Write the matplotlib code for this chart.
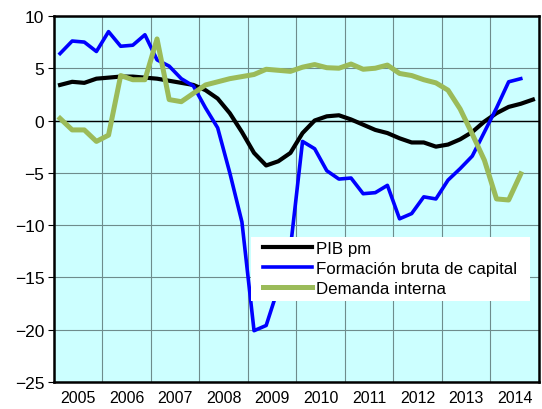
import matplotlib
matplotlib.use('Agg')
import matplotlib.pyplot as plt
import numpy as np

plt.rcParams['font.family'] = ['Liberation Sans', 'DejaVu Sans']

years = [2005, 2006, 2007, 2008, 2009, 2010, 2011, 2012, 2013, 2014]

# quarterly rates (%), 2005Q1 ..
pib = [3.4, 3.7, 3.6, 4.0, 4.1, 4.2, 4.2, 4.1, 4.0, 3.8,
       3.6, 3.4, 2.9, 2.1, 0.7, -1.1, -3.1, -4.3, -3.9, -3.1,
       -1.2, 0.0, 0.4, 0.5, 0.1, -0.4, -0.9, -1.2, -1.7, -2.1,
       -2.1, -2.5, -2.3, -1.8, -1.1, -0.1, 0.7, 1.3, 1.6, 2.0]
fbc = [6.4, 7.6, 7.5, 6.6, 8.5, 7.1, 7.2, 8.2, 5.8, 5.2,
       4.0, 3.3, 1.2, -0.7, -5.0, -9.7, -20.1, -19.6, -16.0, -12.2,
       -2.0, -2.7, -4.8, -5.6, -5.5, -7.0, -6.9, -6.2, -9.4, -8.9,
       -7.3, -7.5, -5.7, -4.6, -3.4, -1.1, 1.2, 3.7, 4.0]
dem = [0.2, -0.9, -0.9, -2.0, -1.4, 4.3, 3.9, 3.9, 7.8, 2.0,
       1.8, 2.6, 3.4, 3.7, 4.0, 4.2, 4.4, 4.9, 4.8, 4.7,
       5.1, 5.35, 5.05, 5.0, 5.4, 4.9, 5.0, 5.3, 4.5, 4.3,
       3.9, 3.6, 2.9, 1.1, -1.3, -3.8, -7.5, -7.6, -5.1]

def qx(n):
    return 2005 + (np.arange(n) + 0.5) / 4

fig = plt.figure(figsize=(5.42, 4.10), dpi=100)
ax = fig.add_axes([0.0996, 0.066, 0.8948, 0.8927])
ax.set_facecolor('#CCFFFF')

ax.plot(qx(len(pib)), pib, color='black', lw=3, label='PIB pm', zorder=3)
ax.plot(qx(len(fbc)), fbc, color='#0000FF', lw=2.6, label='Formación bruta de capital', zorder=4)
ax.plot(qx(len(dem)), dem, color='#9BBB59', lw=3.6, label='Demanda interna', zorder=5)

ax.axhline(0, color='black', lw=1, zorder=2)

ax.set_xlim(2005, 2015)
ax.set_ylim(-25, 10)
ax.set_yticks(np.arange(-25, 11, 5))
ax.set_xticks(np.array(years) + 0.5)
ax.set_xticklabels([str(y) for y in years])
ax.set_xticks(np.arange(2005, 2016), minor=True)
ax.tick_params(axis='x', which='both', length=0, labelsize=11.5, pad=6)
ax.tick_params(axis='y', length=4, labelsize=12.5, pad=3)
ax.grid(True, axis='x', which='minor', color='#6E8C8C', lw=0.8)
ax.grid(True, axis='y', which='major', color='#6E8C8C', lw=0.8)
ax.set_axisbelow(True)
for s in ax.spines.values():
    s.set_linewidth(1.8)
    s.set_color('black')

# white legend box
box = plt.Rectangle((0.406, 0.221), 0.575, 0.175, transform=ax.transAxes,
                    facecolor='white', edgecolor='none', zorder=6)
ax.add_patch(box)
leg = ax.legend(loc='center left', bbox_to_anchor=(0.431, 0.309), fontsize=12.2,
                frameon=False, handlelength=2.9, handletextpad=0.25,
                borderpad=0, labelspacing=0.3, borderaxespad=0)
leg.set_zorder(7)

fig.savefig('out.png', dpi=100)
